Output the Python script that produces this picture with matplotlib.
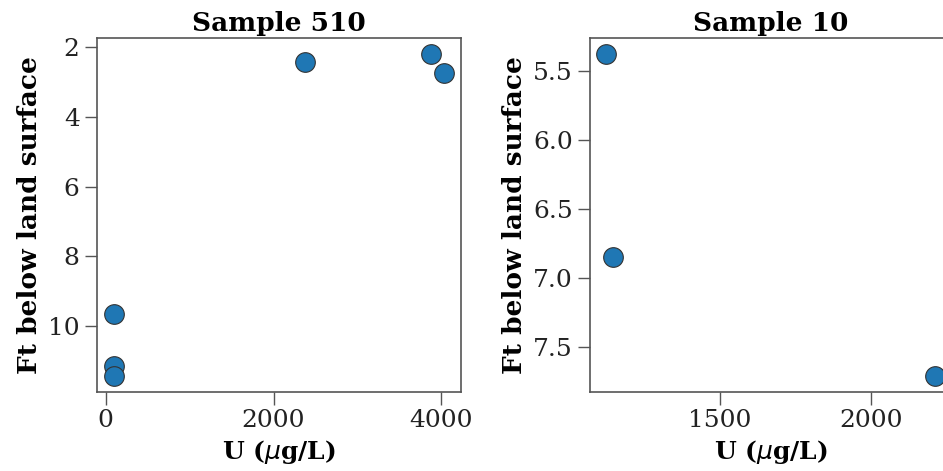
import matplotlib
matplotlib.use("Agg")
import matplotlib.pyplot as plt

# sample 510
u_510 = [2369, 3881, 4036, 95, 95, 95]
depth_510 = [2.43, 2.2, 2.74, 9.66, 11.14, 11.43]

# sample 10
u_10 = [1127, 1149, 2208]
depth_10 = [5.38, 6.85, 7.71]

titles = ["Sample 510", "Sample 10"]

plt.rcParams['font.family'] = ['DejaVu Serif']
plt.rcParams['font.size'] = 18

fig = plt.figure(figsize=(9.43, 4.71), dpi=100)
ax1 = fig.add_axes([0.1029, 0.1677, 0.386, 0.7516])
ax2 = fig.add_axes([0.6257, 0.1677, 0.3828, 0.7516])

for ax, x, y, t in [(ax1, u_510, depth_510, titles[0]), (ax2, u_10, depth_10, titles[1])]:
    ax.scatter(x, y, s=200, color='#1f77b4', edgecolor='#333333', linewidth=0.8, zorder=3)
    ax.invert_yaxis()
    ax.set_title(t, fontweight='bold', fontsize=19, pad=5)
    ax.set_xlabel(r'U ($\mu$g/L)', fontweight='bold', fontsize=18)
    ax.set_ylabel('Ft below land surface', fontweight='bold', fontsize=19)
    for s in ax.spines.values():
        s.set_color('#555555')
        s.set_linewidth(1.2)
    ax.tick_params(length=9, width=1, color='#555555', labelsize=18, labelcolor='#222222')

ax1.set_xticks([0, 2000, 4000])
ax1.set_yticks([2, 4, 6, 8, 10])
ax2.set_xticks([1500, 2000])
ax2.set_yticks([5.5, 6.0, 6.5, 7.0, 7.5])

fig.savefig('out.png', dpi=100)
